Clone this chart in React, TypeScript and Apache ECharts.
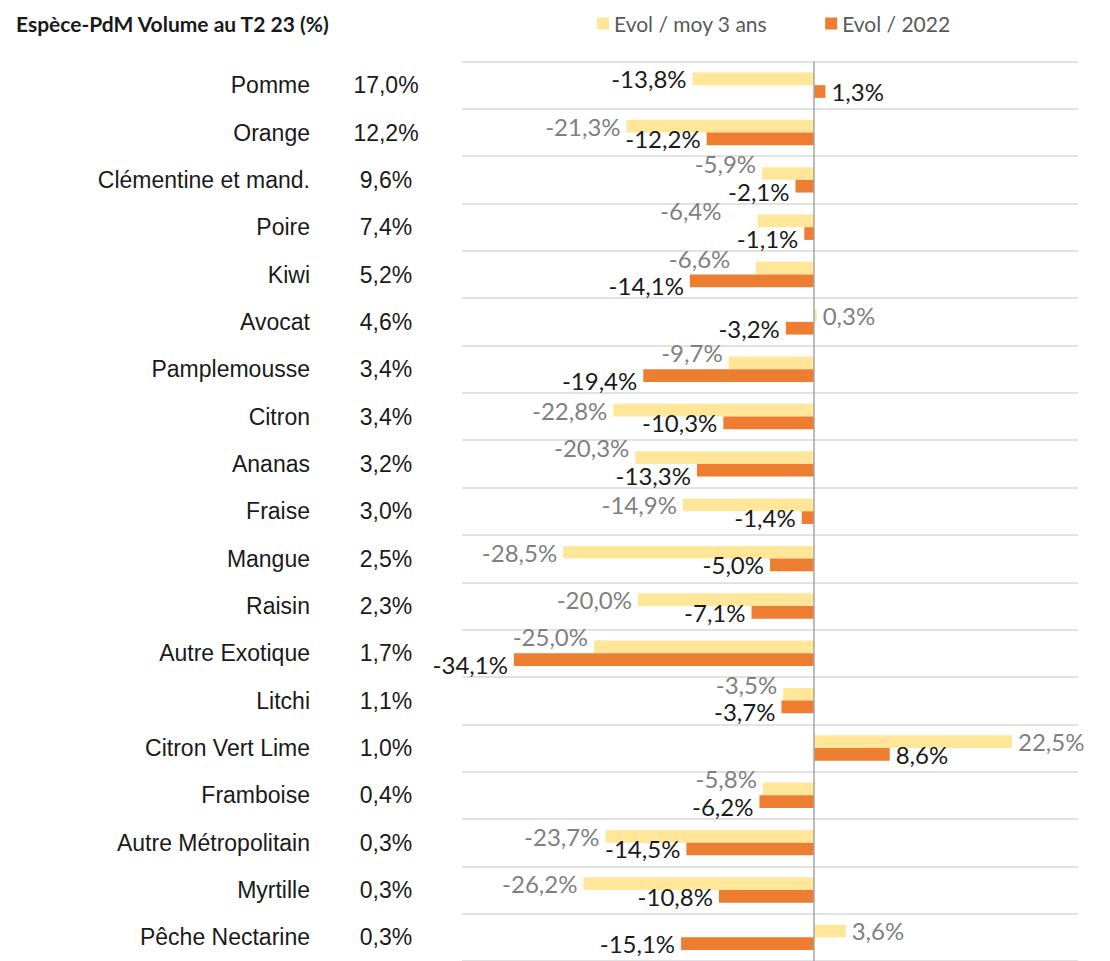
import React, { useEffect, useRef } from "react";
import * as echarts from "echarts";

const categories = [
  "Pomme", "Orange", "Clémentine et mand.", "Poire", "Kiwi", "Avocat", "Pamplemousse",
  "Citron", "Ananas", "Fraise", "Mangue", "Raisin", "Autre Exotique", "Litchi",
  "Citron Vert Lime", "Framboise", "Autre Métropolitain", "Myrtille", "Pêche Nectarine",
];
const shares = [
  "17,0%", "12,2%", "9,6%", "7,4%", "5,2%", "4,6%", "3,4%", "3,4%", "3,2%", "3,0%",
  "2,5%", "2,3%", "1,7%", "1,1%", "1,0%", "0,4%", "0,3%", "0,3%", "0,3%",
];
const evol3ans = [
  -13.8, -21.3, -5.9, -6.4, -6.6, 0.3, -9.7, -22.8, -20.3, -14.9,
  -28.5, -20.0, -25.0, -3.5, 22.5, -5.8, -23.7, -26.2, 3.6,
];
const evol2022 = [
  1.3, -12.2, -2.1, -1.1, -14.1, -3.2, -19.4, -10.3, -13.3, -1.4,
  -5.0, -7.1, -34.1, -3.7, 8.6, -6.2, -14.5, -10.8, -15.1,
];

const fmt = (v: number) => v.toFixed(1).replace(".", ",") + "%";

const X_MIN = -40;
const X_MAX = 30;
const GRID_LEFT = 462;
const GRID_W = 616;
const LABEL_FS = 24;
const LABEL_DIST = 6;

export default function App() {
  const ref = useRef<HTMLDivElement>(null);
  useEffect(() => {
    if (!ref.current) return;
    const chart = echarts.init(ref.current, null, { renderer: "svg" });
    const valFont = "Lato, 'Open Sans', sans-serif";
    const toPx = (v: number) => GRID_LEFT + ((v - X_MIN) / (X_MAX - X_MIN)) * GRID_W;
    const labelRange = (v: number) => {
      const tw = fmt(v).length * LABEL_FS * 0.5;
      const end = toPx(v);
      return v < 0 ? [end - LABEL_DIST - tw, end - LABEL_DIST] : [end + LABEL_DIST, end + LABEL_DIST + tw];
    };
    const intersects = (a: number[], b: number[]) => a[0] < b[1] && b[0] < a[1];
    // rows where the two labels would collide with each other, or the grey label with the orange bar
    const crowded = evol3ans.map((y, i) => {
      const o = evol2022[i];
      const yl = labelRange(y);
      const ol = labelRange(o);
      const oBar = [toPx(Math.min(0, o)), toPx(Math.max(0, o))];
      return intersects(yl, ol) || intersects(yl, oBar);
    });
    // when two consecutive rows are both spread apart, slide the upper grey label
    // sideways so it clears the black label of the row above
    const yShiftX = evol3ans.map((y, i) => {
      if (i === 0 || !crowded[i] || !crowded[i - 1] || y >= 0) return 0;
      const yl = labelRange(y);
      const prev = labelRange(evol2022[i - 1]);
      return intersects(yl, prev) ? prev[0] - yl[1] - 8 : 0;
    });
    const mk = (vals: number[], color: string, first: boolean) =>
      vals.map((v, i) => ({
        value: v,
        label: {
          position: v < 0 ? "left" : "right",
          color: first && i === 0 ? "#1a1a1a" : color,
          offset: crowded[i] ? [first ? yShiftX[i] : 0, first ? -10 : 5] : [0, 0],
        },
      }));
    chart.setOption({
      animation: false,
      title: {
        text: "Espèce-PdM Volume au T2 23 (%)",
        left: 11,
        top: 8,
        textStyle: { fontFamily: valFont, fontWeight: "bold", fontSize: 21, color: "#1a1a1a" },
      },
      legend: {
        left: 592,
        top: 8,
        itemWidth: 12,
        itemHeight: 12,
        itemGap: 58,
        icon: "rect",
        textStyle: { fontFamily: valFont, fontSize: 21, color: "#595959" },
        data: ["Evol / moy 3 ans", "Evol / 2022"],
      },
      grid: { left: GRID_LEFT, width: GRID_W, top: 61.5, height: 902.7 },
      xAxis: { type: "value", min: X_MIN, max: X_MAX, show: false },
      yAxis: [
        {
          type: "category",
          data: categories,
          inverse: true,
          axisLine: { show: false },
          axisTick: { show: false },
          axisLabel: {
            margin: 152,
            fontFamily: "'Liberation Sans', Arial, sans-serif",
            fontSize: 23,
            color: "#1a1a1a",
          },
          splitLine: { show: true, lineStyle: { color: "#d9d9d9", width: 1.5 } },
        },
        {
          type: "category",
          data: shares,
          inverse: true,
          position: "left",
          axisLine: { show: false },
          axisTick: { show: false },
          axisLabel: {
            margin: 76,
            align: "center",
            fontFamily: "'Liberation Sans', Arial, sans-serif",
            fontSize: 23,
            color: "#1a1a1a",
          },
          splitLine: { show: false },
        },
      ],
      series: [
        {
          name: "Evol / moy 3 ans",
          type: "bar",
          yAxisIndex: 0,
          barWidth: 12.7,
          barGap: "0%",
          itemStyle: { color: "#FFE699" },
          data: mk(evol3ans, "#7f7f7f", true),
          label: {
            show: true,
            distance: LABEL_DIST,
            formatter: (p: any) => fmt(p.value),
            fontFamily: valFont,
            fontSize: LABEL_FS,
          },
          markLine: {
            silent: true,
            symbol: "none",
            label: { show: false },
            lineStyle: { color: "#a6a6a6", width: 1.5, type: "solid" },
            data: [{ xAxis: 0 }],
          },
          z: 3,
        },
        {
          name: "Evol / 2022",
          type: "bar",
          yAxisIndex: 0,
          barWidth: 12.7,
          barGap: "0%",
          itemStyle: { color: "#ED7D31" },
          data: mk(evol2022, "#1a1a1a", false),
          label: {
            show: true,
            distance: LABEL_DIST,
            formatter: (p: any) => fmt(p.value),
            fontFamily: valFont,
            fontSize: LABEL_FS,
          },
          z: 3,
        },
      ],
    });
    return () => chart.dispose();
  }, []);
  return (
    <div
      ref={ref}
      style={{ position: "fixed", left: 0, top: 0, width: 1110, height: 961, background: "#fff" }}
    />
  );
}
